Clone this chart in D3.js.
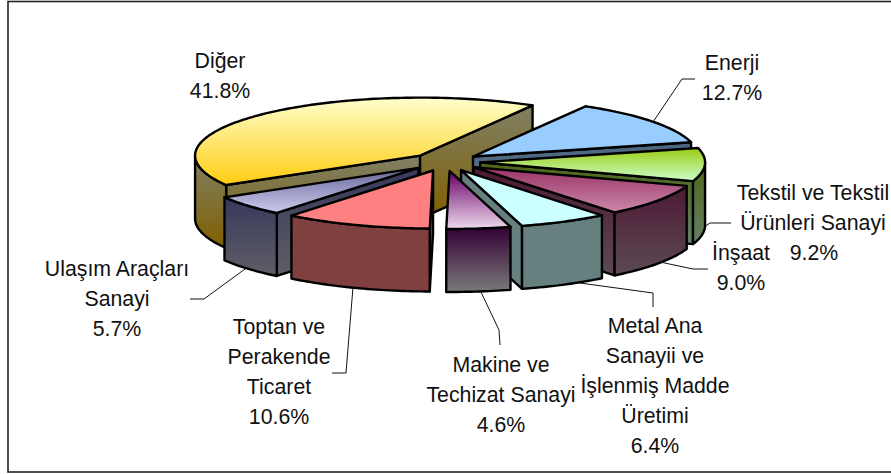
<!DOCTYPE html>
<html><head><meta charset="utf-8">
<script src="https://cdn.jsdelivr.net/npm/d3@7"></script>
<style>html,body{margin:0;padding:0;background:#fff}svg{display:block}text{font-family:"Liberation Sans",Arial,sans-serif;font-size:21.3px;fill:#111;text-anchor:middle}</style>
</head><body><svg id="c" width="891" height="474"></svg>
<script>
// Data, in pie order (clockwise from Enerji)
const categories = [
  ["Enerji"],
  ["Tekstil ve Tekstil","Ürünleri Sanayi"],
  ["İnşaat"],
  ["Metal Ana","Sanayii ve","İşlenmiş Madde","Üretimi"],
  ["Makine ve","Techizat Sanayi"],
  ["Toptan ve","Perakende","Ticaret"],
  ["Ulaşım Araçları","Sanayi"],
  ["Diğer"]
];
const values = [12.7, 9.2, 9.0, 6.4, 4.6, 10.6, 5.7, 41.8];
const topColors = [
  ["#99ccff","#99ccff"],["#99cc11","#ccffcc"],["#993366","#cc88aa"],["#ccffff","#ccffff"],
  ["#660066","#eed8ee"],["#ff8080","#ff8080"],["#666699","#ccccee"],["#ffffcc","#ffcc11"]
];
const sideColors = [
  ["#4d6680","#5f7a94"],["#4d6619","#668066"],["#4d1933","#5c4a55"],["#668080","#668080"],
  ["#330033","#7a7a7a"],["#804040","#804040"],["#38385c","#5e5e66"],["#808066","#806000"]
];

// Layout
const W = 891, H = 474;
const cx = 445, cy = 162, rx = 225, ry = 58, depth = 63, explode = 0.156;
const drawOrder = [7,0,1,2,3,4,6,5];
const labelPos = [ // centre x, first baseline
  [732,70],[813,200],[741,260],[655,333],[501,372],[279,334],[117,276],[220,68]
];
const valueBaselineOverride = {1:[814,260]};
const leaders = [
  [[653,122],[682,79],[695,79]],
  [[704,227],[710,223],[731,223]],
  [[660,262],[693,269],[708,269]],
  [[580,283],[653,293],[653,307]],
  [[480,290],[499,330],[500,345]],
  [[353,287],[346,373],[332,373]],
  [[245,269],[204,299],[190,299]],
  []
];

const svg = d3.select("#c");
const defs = svg.append("defs");
svg.append("rect").attr("x",8).attr("y",1.5).attr("width",W).attr("height",H-3.5)
  .attr("fill","#fff").attr("stroke","#222").attr("stroke-width",1.6);

const sx = d3.scaleLinear().domain([-1,1]).range([cx-rx,cx+rx]);
const sy = d3.scaleLinear().domain([-1,1]).range([cy-ry,cy+ry]);
const pie = d3.pie().sort(null).startAngle(Math.PI/6).endAngle(Math.PI/6+2*Math.PI);
const arcs = pie(values);
const line = d3.line();
function grad(id,c){
  const g = defs.append("linearGradient").attr("id",id).attr("x1",0).attr("y1",0).attr("x2",0).attr("y2",1);
  g.append("stop").attr("offset",0).attr("stop-color",c[0]);
  g.append("stop").attr("offset",1).attr("stop-color",c[1]);
  return `url(#${id})`;
}
function face(pts,fill){
  svg.append("path").attr("d",line(pts)+"Z").attr("fill",fill)
    .attr("stroke","#000").attr("stroke-width",2.4).attr("stroke-linejoin","round");
}
drawOrder.forEach(i=>{
  const a = arcs[i];
  const t0 = a.startAngle-Math.PI/2, t1 = a.endAngle-Math.PI/2, mid=(t0+t1)/2;
  const P = (t,r,dz=0)=>[sx(r*Math.cos(t)+explode*Math.cos(mid)), sy(r*Math.sin(t)+explode*Math.sin(mid))+dz];
  const wallFill = grad("s"+i,sideColors[i]), topFill = grad("t"+i,topColors[i]);
  // cut walls that face the viewer
  if(Math.cos(t0)<0) face([P(t0,0),P(t0,1),P(t0,1,depth),P(t0,0,depth)],wallFill);
  if(Math.cos(t1)>0) face([P(t1,0),P(t1,1),P(t1,1,depth),P(t1,0,depth)],wallFill);
  // outer wall: front half of the rim
  for(const k of [-2,0,2]){
    const lo=Math.max(t0,k*Math.PI), hi=Math.min(t1,k*Math.PI+Math.PI);
    if(hi>lo){
      const ts=d3.range(lo,hi,0.02).concat([hi]);
      face(ts.map(t=>P(t,1)).concat(ts.slice().reverse().map(t=>P(t,1,depth))),wallFill);
    }
  }
  // top
  const ts=d3.range(t0,t1,0.02).concat([t1]);
  face([P(t0,0)].concat(ts.map(t=>P(t,1))),topFill);
});

// leaders
leaders.forEach(l=>{ if(l.length) svg.append("path").attr("d",line(l)).attr("fill","none").attr("stroke","#111").attr("stroke-width",1); });

// labels
const pct = d3.format(".1f");
const lineGap = 30;
categories.forEach((c,i)=>{
  const [x,y]=labelPos[i];
  c.forEach((s,j)=>svg.append("text").attr("x",x).attr("y",y+j*lineGap).text(s));
  const v = valueBaselineOverride[i] || [x,y+c.length*lineGap];
  svg.append("text").attr("x",v[0]).attr("y",v[1]).text(pct(values[i])+"%");
});
</script></body></html>
